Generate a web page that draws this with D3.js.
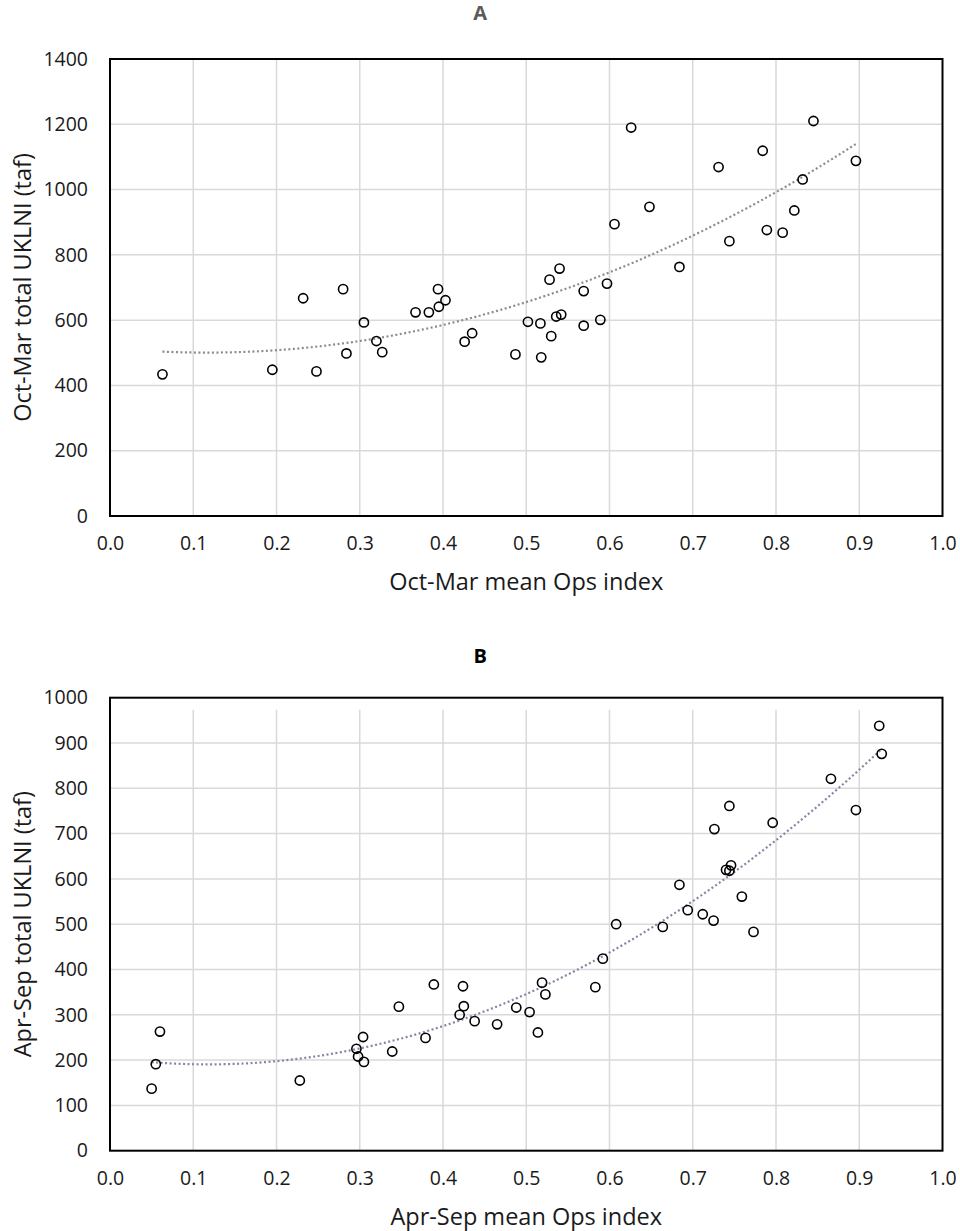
<!DOCTYPE html>
<html>
<head>
<meta charset="utf-8">
<script src="https://cdn.jsdelivr.net/npm/d3@7"></script>
<style>
  html, body { margin: 0; padding: 0; background: #fff; }
  svg { display: block; font-family: "Open Sans", "Noto Sans", sans-serif; }
</style>
</head>
<body>
<svg id="chart" width="960" height="1231"></svg>
<script>
// Panel A: Oct-Mar
const octMarOps = [0.063, 0.195, 0.232, 0.248, 0.280, 0.284, 0.305, 0.320, 0.327, 0.367,
  0.383, 0.394, 0.395, 0.403, 0.426, 0.435, 0.487, 0.502, 0.517, 0.518,
  0.528, 0.530, 0.536, 0.540, 0.542, 0.569, 0.569, 0.589, 0.597, 0.606,
  0.626, 0.648, 0.684, 0.731, 0.744, 0.784, 0.789, 0.808, 0.822, 0.832,
  0.845, 0.896];
const octMarUklni = [434, 448, 667, 443, 695, 498, 593, 536, 502, 624,
  624, 695, 641, 661, 534, 560, 495, 595, 590, 486,
  724, 551, 611, 758, 617, 689, 583, 601, 712, 894,
  1190, 947, 763, 1069, 842, 1119, 876, 868, 936, 1031,
  1210, 1088];

// Panel B: Apr-Sep
const aprSepOps = [0.050, 0.055, 0.060, 0.228, 0.296, 0.298, 0.304, 0.305, 0.339, 0.347,
  0.379, 0.389, 0.420, 0.424, 0.425, 0.438, 0.465, 0.488, 0.504, 0.514,
  0.519, 0.523, 0.583, 0.592, 0.608, 0.664, 0.684, 0.694, 0.712, 0.725,
  0.726, 0.740, 0.744, 0.746, 0.744, 0.759, 0.773, 0.796, 0.866, 0.896,
  0.924, 0.927];
const aprSepUklni = [137, 191, 263, 155, 225, 208, 251, 196, 219, 318,
  249, 367, 300, 363, 319, 286, 279, 316, 306, 261,
  371, 345, 361, 424, 500, 494, 587, 531, 522, 508,
  710, 620, 618, 630, 761, 561, 483, 724, 821, 752,
  938, 876];

const xTicks = [0, 0.1, 0.2, 0.3, 0.4, 0.5, 0.6, 0.7, 0.8, 0.9, 1.0];
const yTicksA = [0, 200, 400, 600, 800, 1000, 1200, 1400];
const yTicksB = [0, 100, 200, 300, 400, 500, 600, 700, 800, 900, 1000];

// Least-squares polynomial (order 2) trendline
function quadFit(xs, ys) {
  const n = xs.length;
  let s = [0, 0, 0, 0, 0], t = [0, 0, 0];
  for (let i = 0; i < n; i++) {
    const x = xs[i], y = ys[i];
    let p = 1;
    for (let k = 0; k <= 4; k++) { s[k] += p; if (k <= 2) t[k] += p * y; p *= x; }
  }
  const M = [[s[0], s[1], s[2], t[0]], [s[1], s[2], s[3], t[1]], [s[2], s[3], s[4], t[2]]];
  for (let c = 0; c < 3; c++) {
    let piv = c;
    for (let r = c + 1; r < 3; r++) if (Math.abs(M[r][c]) > Math.abs(M[piv][c])) piv = r;
    [M[c], M[piv]] = [M[piv], M[c]];
    for (let r = 0; r < 3; r++) {
      if (r === c) continue;
      const f = M[r][c] / M[c][c];
      for (let k = c; k < 4; k++) M[r][k] -= f * M[c][k];
    }
  }
  const a = M[0][3] / M[0][0], b = M[1][3] / M[1][1], cc = M[2][3] / M[2][2];
  return x => a + b * x + cc * x * x;
}

const svg = d3.select("#chart");

function drawPanel(opt) {
  const { top, bottom, left, right, xs, ys, yTicks, yMax, title, titleColor,
          xLabel, yLabel, trendColor, vGridTopInset } = opt;
  const x = d3.scaleLinear().domain([0, 1]).range([left, right]);
  const y = d3.scaleLinear().domain([0, yMax]).range([bottom, top]);
  const g = svg.append("g");

  // gridlines
  g.append("g").selectAll("line").data(yTicks.filter(v => v > 0 && v < yMax)).join("line")
    .attr("x1", left).attr("x2", right).attr("y1", d => y(d)).attr("y2", d => y(d))
    .attr("stroke", "#d9d9d9").attr("stroke-width", 1.5);
  g.append("g").selectAll("line").data(xTicks.filter(v => v > 0 && v < 1)).join("line")
    .attr("x1", d => x(d)).attr("x2", d => x(d))
    .attr("y1", top + vGridTopInset).attr("y2", bottom)
    .attr("stroke", "#d9d9d9").attr("stroke-width", 1.5);

  // plot frame
  g.append("rect").attr("x", left).attr("y", top)
    .attr("width", right - left).attr("height", bottom - top)
    .attr("fill", "none").attr("stroke", "#000").attr("stroke-width", 2);

  // y axis labels
  const yAxis = d3.axisLeft(y).tickValues(yTicks).tickSize(0).tickPadding(22)
    .tickFormat(d3.format("d"));
  g.append("g").attr("transform", `translate(${left},0)`).call(yAxis)
    .call(s => s.select(".domain").remove())
    .selectAll("text").attr("font-size", 19.5).attr("fill", "#1a1a1a")
    .attr("font-family", "'Open Sans', sans-serif");

  // x axis labels
  const xAxis = d3.axisBottom(x).tickValues(xTicks).tickSize(0).tickPadding(20)
    .tickFormat(d3.format(".1f"));
  g.append("g").attr("transform", `translate(0,${bottom})`).call(xAxis)
    .call(s => s.select(".domain").remove())
    .selectAll("text").attr("font-size", 19.5).attr("fill", "#1a1a1a")
    .attr("font-family", "'Open Sans', sans-serif");

  // trendline
  const f = quadFit(xs, ys);
  const [x0, x1] = d3.extent(xs);
  const pts = d3.range(0, 101).map(i => x0 + (x1 - x0) * i / 100);
  g.append("path").datum(pts)
    .attr("d", d3.line().x(d => x(d)).y(d => y(f(d))))
    .attr("fill", "none").attr("stroke", trendColor).attr("stroke-width", 2.2)
    .attr("stroke-dasharray", "2,2.5");

  // points
  g.append("g").selectAll("circle").data(xs.map((v, i) => [v, ys[i]])).join("circle")
    .attr("cx", d => x(d[0])).attr("cy", d => y(d[1])).attr("r", 4.6)
    .attr("fill", "none").attr("stroke", "#000").attr("stroke-width", 1.6);

  // titles
  g.append("text").attr("x", (left + right) / 2 - 46).attr("y", top - opt.titleGap)
    .attr("text-anchor", "middle").attr("font-weight", "bold").attr("font-size", 20)
    .attr("fill", titleColor).text(title);
  g.append("text").attr("x", (left + right) / 2).attr("y", bottom + 74)
    .attr("text-anchor", "middle").attr("font-size", 23.5).attr("fill", "#1a1a1a")
    .text(xLabel);
  g.append("text")
    .attr("transform", `translate(31,${(top + bottom) / 2}) rotate(-90)`)
    .attr("text-anchor", "middle").attr("font-size", 23.5).attr("fill", "#1a1a1a")
    .text(yLabel);
}

drawPanel({
  top: 59, bottom: 516, left: 110, right: 942.5,
  xs: octMarOps, ys: octMarUklni, yTicks: yTicksA, yMax: 1400,
  title: "A", titleColor: "#5a5a5a", titleGap: 39,
  xLabel: "Oct-Mar mean Ops index", yLabel: "Oct-Mar total UKLNI (taf)",
  trendColor: "#8c8c8c", vGridTopInset: 0
});

drawPanel({
  top: 697.7, bottom: 1150.7, left: 110, right: 942.5,
  xs: aprSepOps, ys: aprSepUklni, yTicks: yTicksB, yMax: 1000,
  title: "B", titleColor: "#000", titleGap: 35,
  xLabel: "Apr-Sep mean Ops index", yLabel: "Apr-Sep total UKLNI (taf)",
  trendColor: "#8486a6", vGridTopInset: 12
});
</script>
</body>
</html>
